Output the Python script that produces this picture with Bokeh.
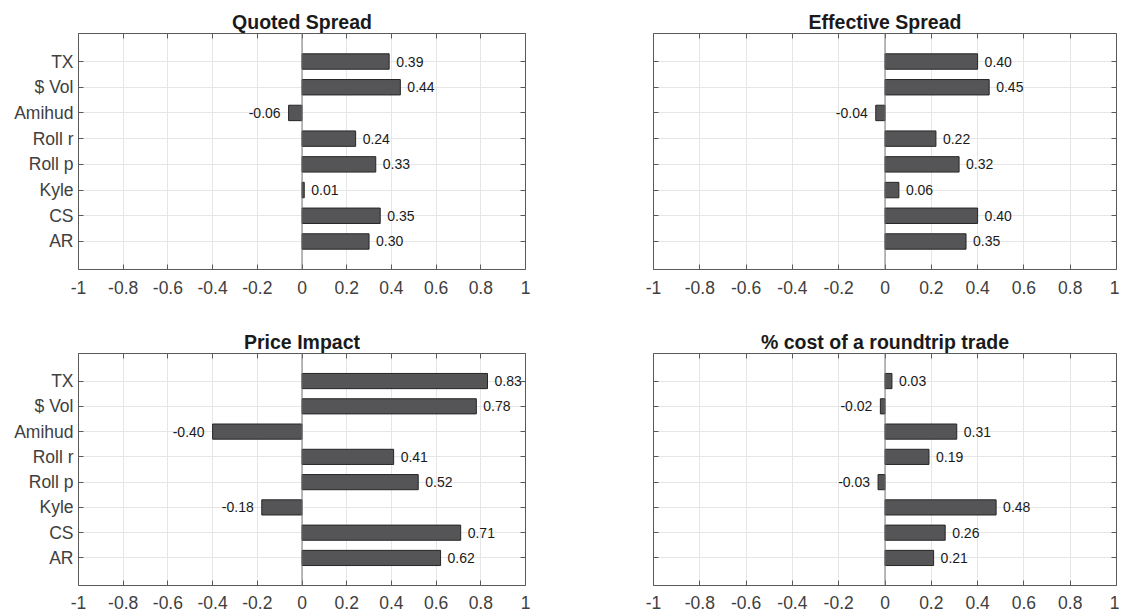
from bokeh.plotting import figure
from bokeh.models import (Range1d, FixedTicker, LinearAxis, Span,
                          ColumnDataSource)
from bokeh.layouts import column, row
from bokeh.core.properties import value
from bokeh.embed import file_html
from bokeh.resources import INLINE

# ---------------- data ----------------
categories = ["TX", "$ Vol", "Amihud", "Roll r", "Roll p", "Kyle", "CS", "AR"]
titles = ["Quoted Spread", "Effective Spread", "Price Impact",
          "% cost of a roundtrip trade"]
quoted_spread = [0.39, 0.44, -0.06, 0.24, 0.33, 0.01, 0.35, 0.30]
effective_spread = [0.40, 0.45, -0.04, 0.22, 0.32, 0.06, 0.40, 0.35]
price_impact = [0.83, 0.78, -0.40, 0.41, 0.52, -0.18, 0.71, 0.62]
roundtrip_cost = [0.03, -0.02, 0.31, 0.19, -0.03, 0.48, 0.26, 0.21]
x_ticks = [-1, -0.8, -0.6, -0.4, -0.2, 0, 0.2, 0.4, 0.6, 0.8, 1]
x_tick_labels = ["-1", "-0.8", "-0.6", "-0.4", "-0.2", "0",
                 "0.2", "0.4", "0.6", "0.8", "1"]

FONT = "Liberation Sans"
AXIS_COLOR = "#5a5a5a"
LABEL_COLOR = "#404040"
GRID_COLOR = "#e6e6e6"
BAR_FILL = "#555558"
BAR_EDGE = "#262626"

# bar positions: first category at the top (barh order)
n_cat = len(categories)
y_pos = [n_cat - i for i in range(n_cat)]


def panel(title, vals, show_cat_labels, frame_w, frame_h, bl, br, bt, bb,
          x_standoff):
    p = figure(
        y_range=Range1d(min(y_pos) - 1.09, max(y_pos) + 1.09),
        x_range=Range1d(-1, 1),
        frame_width=frame_w, frame_height=frame_h,
        min_border_left=bl, min_border_right=br,
        min_border_top=bt, min_border_bottom=bb,
        output_backend="svg", toolbar_location=None, title=title,
    )
    p.outline_line_color = None
    p.background_fill_color = "white"
    p.border_fill_color = "white"

    p.title.text_font = FONT
    p.title.text_font_size = "19.5px"
    p.title.text_font_style = "bold"
    p.title.text_color = "#1a1a1a"
    p.title.align = "center"
    p.title.standoff = 2

    xticker = FixedTicker(ticks=x_ticks)
    yticker = FixedTicker(ticks=y_pos)
    x_over = {t: l for t, l in zip(x_ticks, x_tick_labels)}
    y_over = {t: c for t, c in zip(y_pos, categories)}
    blank_x = {t: "" for t in x_ticks}
    blank_y = {t: "" for t in y_pos}

    def style(ax):
        ax.major_tick_in = 5
        ax.major_tick_out = 0
        ax.minor_tick_in = 0
        ax.minor_tick_out = 0
        ax.axis_line_color = AXIS_COLOR
        ax.major_tick_line_color = AXIS_COLOR
        ax.major_label_text_font = FONT
        ax.major_label_text_font_size = "17.5px"
        ax.major_label_text_color = LABEL_COLOR

    # bottom axis
    xa = p.xaxis[0]
    style(xa)
    xa.ticker = xticker
    xa.major_label_overrides = x_over
    xa.major_label_standoff = x_standoff

    # top axis (ticks only)
    top = LinearAxis(ticker=xticker, major_label_overrides=blank_x,
                     major_label_standoff=0)
    style(top)
    p.add_layout(top, "above")

    # left axis
    ya = p.yaxis[0]
    style(ya)
    ya.ticker = yticker
    if show_cat_labels:
        ya.major_label_overrides = y_over
        ya.major_label_standoff = 5
    else:
        ya.major_label_overrides = blank_y
        ya.major_label_standoff = 0

    # right axis (ticks only)
    right = LinearAxis(ticker=yticker, major_label_overrides=blank_y,
                       major_label_standoff=0)
    style(right)
    p.add_layout(right, "right")

    p.xgrid.ticker = xticker
    p.ygrid.ticker = yticker
    p.xgrid.grid_line_color = GRID_COLOR
    p.ygrid.grid_line_color = GRID_COLOR

    src = ColumnDataSource(dict(y=y_pos, v=vals))
    p.hbar(y="y", left=0, right="v", height=0.6, source=src,
           fill_color=BAR_FILL, line_color=BAR_EDGE, line_width=1)

    p.add_layout(Span(location=0, dimension="height", line_color="#7a7a7a",
                      line_width=1))

    pos = [(y, v) for y, v in zip(y_pos, vals) if v >= 0]
    neg = [(y, v) for y, v in zip(y_pos, vals) if v < 0]
    if pos:
        s = ColumnDataSource(dict(y=[y for y, _ in pos], v=[v for _, v in pos],
                                  t=["%.2f" % v for _, v in pos]))
        p.text(x="v", y="y", text="t", source=s, x_offset=7,
               text_align="left", text_baseline="middle",
               text_font=value(FONT), text_font_size="14px",
               text_color="#1a1a1a")
    if neg:
        s = ColumnDataSource(dict(y=[y for y, _ in neg], v=[v for _, v in neg],
                                  t=["%.2f" % v for _, v in neg]))
        p.text(x="v", y="y", text="t", source=s, x_offset=-8,
               text_align="right", text_baseline="middle",
               text_font=value(FONT), text_font_size="14px",
               text_color="#1a1a1a")
    return p


p1 = panel(titles[0], quoted_spread, True, 447, 236, 78, 40, 33, 40, 11)
p2 = panel(titles[1], effective_spread, False, 463, 236, 88, 3, 33, 40, 11)
p3 = panel(titles[2], price_impact, True, 447, 232, 78, 40, 44, 30, 10)
p4 = panel(titles[3], roundtrip_cost, False, 463, 232, 88, 3, 44, 30, 10)

layout = column(row(p1, p2), row(p3, p4))
open("out.html", "w").write(file_html(layout, INLINE))
